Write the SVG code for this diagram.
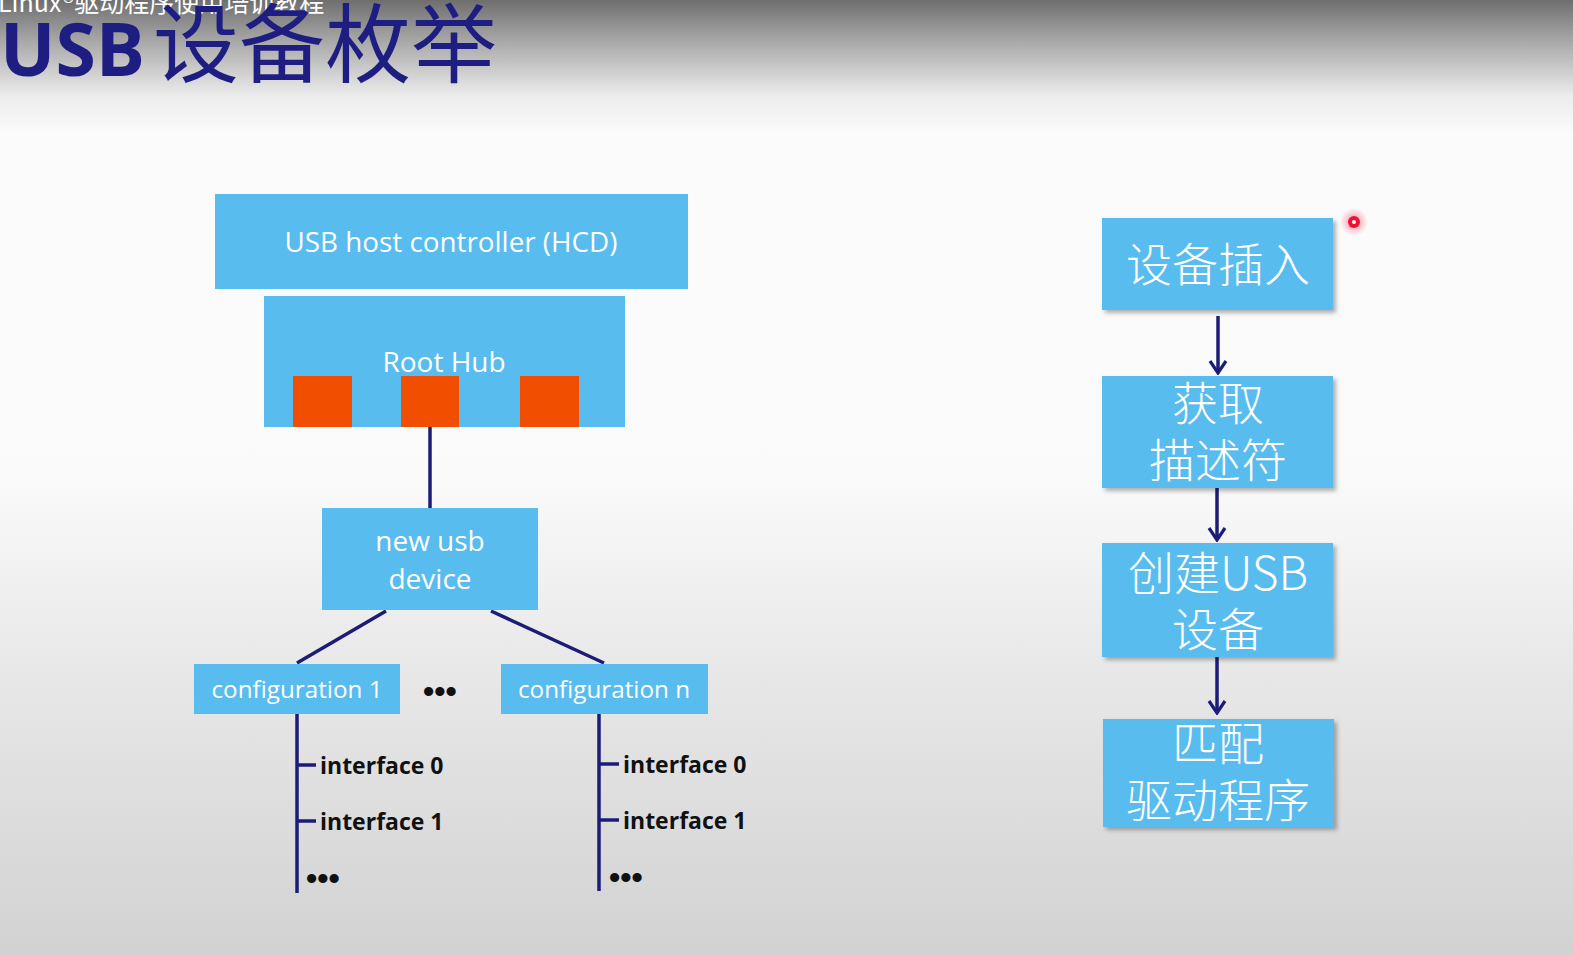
<svg xmlns="http://www.w3.org/2000/svg" width="1573" height="955" viewBox="0 0 1573 955">
  <defs>
    <linearGradient id="bg" x1="0" y1="0" x2="0" y2="1">
      <stop offset="0" stop-color="#6e6e6e"/>
      <stop offset="0.04" stop-color="#a4a4a4"/>
      <stop offset="0.1" stop-color="#ececec"/>
      <stop offset="0.14" stop-color="#fbfbfb"/>
      <stop offset="0.5" stop-color="#fafafa"/>
      <stop offset="0.7" stop-color="#e8e8e8"/>
      <stop offset="1" stop-color="#d2d2d2"/>
    </linearGradient>
    <filter id="shadow" x="-10%" y="-10%" width="125%" height="130%">
      <feDropShadow dx="3" dy="3" stdDeviation="2" flood-color="#000" flood-opacity="0.3"/>
    </filter>
    <radialGradient id="glow">
      <stop offset="0" stop-color="#ff4060" stop-opacity="0.6"/>
      <stop offset="1" stop-color="#ff4060" stop-opacity="0"/>
    </radialGradient>
    <marker id="arrow" viewBox="0 0 18 20" refX="16" refY="10" markerWidth="18" markerHeight="20" markerUnits="userSpaceOnUse" orient="auto">
      <path d="M4,2 L16,10 L4,18" fill="none" stroke="#1c1c78" stroke-width="3.2" stroke-linejoin="miter"/>
    </marker>
  </defs>
  <style>
    .box { fill: #58bcef; }
    .port { fill: #f24e00; }
    .lbl { font-family: "Open Sans", "Liberation Sans", sans-serif; fill: #ffffff; text-anchor: middle; }
    .cjk { font-family: "Noto Sans CJK SC", sans-serif; font-weight: 300; fill: #ffffff; text-anchor: middle; font-size: 46px; }
    .iface { font-family: "Open Sans", "Liberation Sans", sans-serif; font-weight: bold; fill: #111111; font-size: 23px; }
    .dots { font-family: "Liberation Sans", sans-serif; font-weight: bold; fill: #111111; font-size: 32px; }
    .wire { stroke: #1c1c78; stroke-width: 3.5; fill: none; }
  </style>

  <rect width="1573" height="955" fill="url(#bg)"/>

  <!-- heading -->
  <text x="-2" y="12" font-family="Noto Sans CJK SC, sans-serif" font-size="25" fill="#ffffff">Linux®驱动程序使用培训教程</text>
  <text x="0" y="76" fill="#1e1e82"><tspan font-family="Open Sans, Liberation Sans, sans-serif" font-weight="bold" font-size="74" textLength="145" lengthAdjust="spacingAndGlyphs">USB</tspan><tspan font-family="Noto Sans CJK SC, sans-serif" font-size="86" dx="8">设备枚举</tspan></text>

  <!-- connectors -->
  <g id="connectors">
    <line class="wire" x1="430" y1="427" x2="430" y2="508"/>
    <line class="wire" x1="386" y1="611" x2="297" y2="663"/>
    <line class="wire" x1="491" y1="611" x2="604" y2="663"/>
    <line class="wire" x1="297" y1="714" x2="297" y2="893"/>
    <line class="wire" x1="297" y1="765" x2="316" y2="765"/>
    <line class="wire" x1="297" y1="821" x2="316" y2="821"/>
    <line class="wire" x1="599" y1="714" x2="599" y2="891"/>
    <line class="wire" x1="599" y1="764" x2="619" y2="764"/>
    <line class="wire" x1="599" y1="820" x2="619" y2="820"/>
    <line class="wire" x1="1218" y1="316" x2="1218" y2="373" marker-end="url(#arrow)"/>
    <line class="wire" x1="1217" y1="488" x2="1217" y2="540" marker-end="url(#arrow)"/>
    <line class="wire" x1="1217" y1="657" x2="1217" y2="713" marker-end="url(#arrow)"/>
  </g>

  <!-- host side tree -->
  <g id="hcd">
    <rect class="box" x="215" y="194" width="473" height="95"/>
    <text class="lbl" x="451" y="252" font-size="27" textLength="333" lengthAdjust="spacingAndGlyphs">USB host controller (HCD)</text>
  </g>
  <g id="root-hub">
    <rect class="box" x="264" y="296" width="361" height="131"/>
    <text class="lbl" x="444" y="372" font-size="28">Root Hub</text>
    <rect class="port" x="293" y="376" width="59" height="51"/>
    <rect class="port" x="401" y="376" width="58" height="51"/>
    <rect class="port" x="520" y="376" width="59" height="51"/>
  </g>
  <g id="new-usb-device">
    <rect class="box" x="322" y="508" width="216" height="102"/>
    <text class="lbl" x="430" y="551" font-size="28">new usb</text>
    <text class="lbl" x="430" y="589" font-size="28">device</text>
  </g>
  <g id="configuration-1">
    <rect class="box" x="194" y="664" width="206" height="50"/>
    <text class="lbl" x="297" y="698" font-size="24" textLength="171" lengthAdjust="spacingAndGlyphs">configuration 1</text>
  </g>
  <g id="config-gap">
    <text class="dots" x="423" y="702">•••</text>
  </g>
  <g id="configuration-n">
    <rect class="box" x="501" y="664" width="207" height="50"/>
    <text class="lbl" x="604" y="698" font-size="24" textLength="172" lengthAdjust="spacingAndGlyphs">configuration n</text>
  </g>
  <g id="config1-interfaces">
    <text class="iface" x="320" y="774">interface 0</text>
    <text class="iface" x="320" y="830">interface 1</text>
    <text class="dots" x="306" y="889">•••</text>
  </g>
  <g id="confign-interfaces">
    <text class="iface" x="623" y="773">interface 0</text>
    <text class="iface" x="623" y="829">interface 1</text>
    <text class="dots" x="609" y="888">•••</text>
  </g>

  <!-- enumeration steps -->
  <g id="step-plug">
    <rect class="box" x="1102" y="218" width="231" height="92" filter="url(#shadow)"/>
    <text class="cjk" x="1218" y="281">设备插入</text>
  </g>
  <g id="step-descriptor">
    <rect class="box" x="1102" y="376" width="231" height="112" filter="url(#shadow)"/>
    <text class="cjk" x="1218" y="420">获取</text>
    <text class="cjk" x="1218" y="477">描述符</text>
  </g>
  <g id="step-create">
    <rect class="box" x="1102" y="543" width="231" height="114" filter="url(#shadow)"/>
    <text class="cjk" x="1218" y="590">创建USB</text>
    <text class="cjk" x="1218" y="646">设备</text>
  </g>
  <g id="step-match">
    <rect class="box" x="1103" y="719" width="231" height="108" filter="url(#shadow)"/>
    <text class="cjk" x="1218" y="760">匹配</text>
    <text class="cjk" x="1218" y="817">驱动程序</text>
  </g>

  <!-- pointer dot -->
  <circle cx="1354" cy="222" r="14" fill="url(#glow)"/>
  <circle cx="1354" cy="222" r="6" fill="#ee1133"/>
  <circle cx="1354" cy="222" r="2" fill="#ffffff"/>
</svg>
